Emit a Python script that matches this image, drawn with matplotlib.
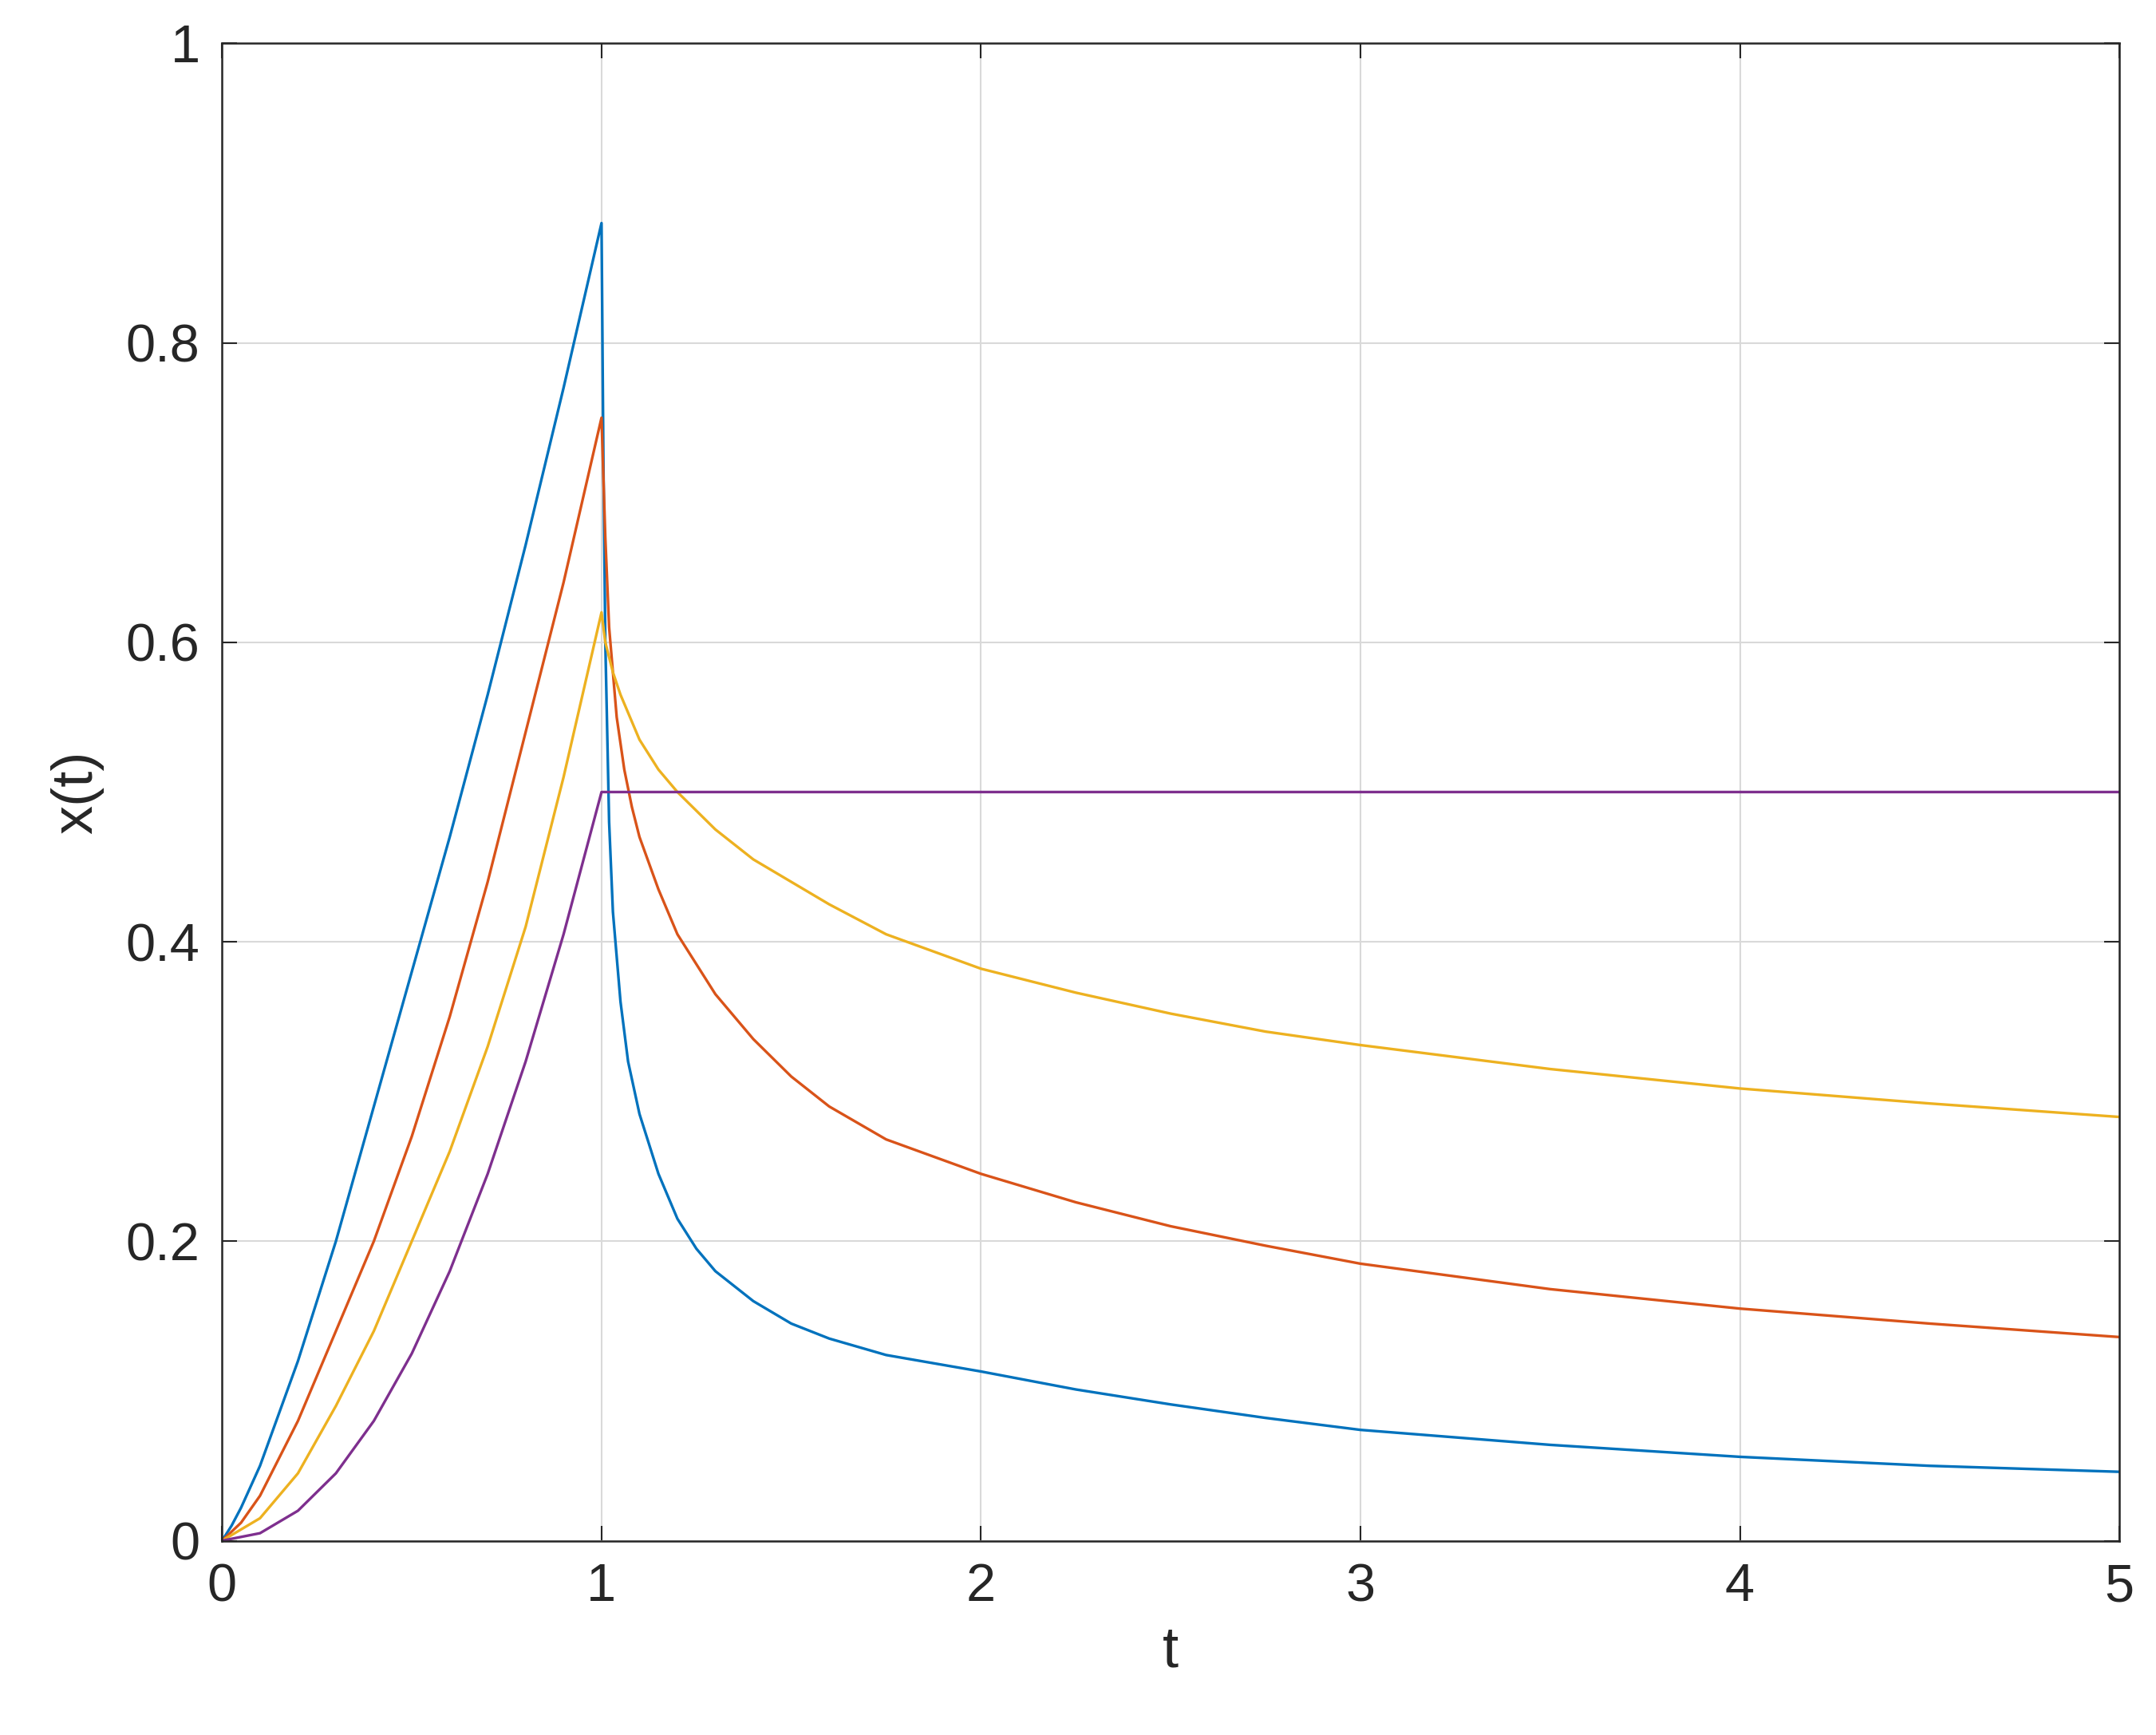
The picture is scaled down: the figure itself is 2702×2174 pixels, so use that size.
import matplotlib
matplotlib.use("Agg")
from matplotlib import pyplot as plt

# values
t_blue = [0, 0.025, 0.05, 0.1, 0.15, 0.2, 0.3, 0.4, 0.5, 0.6, 0.7, 0.8, 0.9, 1.0,
          1.005, 1.01, 1.02, 1.03, 1.05, 1.07, 1.1, 1.15, 1.2, 1.25, 1.3, 1.4, 1.5, 1.6, 1.75, 2,
          2.25, 2.5, 2.75, 3, 3.5, 4, 4.5, 5]
x_blue = [0, 0.01, 0.022, 0.05, 0.085, 0.12, 0.2, 0.29, 0.38, 0.47, 0.565, 0.665, 0.77, 0.88,
          0.72, 0.6, 0.48, 0.42, 0.36, 0.32, 0.285, 0.245, 0.215, 0.195, 0.18, 0.16, 0.145, 0.135, 0.124, 0.113,
          0.101, 0.091, 0.082, 0.074, 0.064, 0.056, 0.05, 0.046]

t_red = [0, 0.05, 0.1, 0.15, 0.2, 0.3, 0.4, 0.5, 0.6, 0.7, 0.8, 0.9, 1.0,
         1.01, 1.02, 1.04, 1.06, 1.08, 1.1, 1.15, 1.2, 1.3, 1.4, 1.5, 1.6, 1.75, 2,
         2.25, 2.5, 2.75, 3, 3.5, 4, 4.5, 5]
x_red = [0, 0.012, 0.03, 0.055, 0.08, 0.14, 0.2, 0.27, 0.35, 0.44, 0.54, 0.64, 0.75,
         0.67, 0.61, 0.55, 0.515, 0.49, 0.47, 0.435, 0.405, 0.365, 0.335, 0.31, 0.29, 0.268, 0.245,
         0.226, 0.21, 0.197, 0.185, 0.168, 0.155, 0.145, 0.136]

t_yellow = [0, 0.1, 0.2, 0.3, 0.4, 0.5, 0.6, 0.7, 0.8, 0.9, 1.0,
            1.01, 1.03, 1.05, 1.1, 1.15, 1.2, 1.3, 1.4, 1.5, 1.6, 1.75, 2,
            2.25, 2.5, 2.75, 3, 3.5, 4, 4.5, 5]
x_yellow = [0, 0.015, 0.045, 0.09, 0.14, 0.2, 0.26, 0.33, 0.41, 0.51, 0.62,
            0.6, 0.58, 0.565, 0.535, 0.515, 0.5, 0.475, 0.455, 0.44, 0.425, 0.405, 0.382,
            0.366, 0.352, 0.34, 0.331, 0.315, 0.302, 0.292, 0.283]

t_purple = [0, 0.1, 0.2, 0.3, 0.4, 0.5, 0.6, 0.7, 0.8, 0.9, 1.0, 5.0]
x_purple = [0, 0.005, 0.02, 0.045, 0.08, 0.125, 0.18, 0.245, 0.32, 0.405, 0.5, 0.5]

colors = ["#0072BD", "#D95319", "#EDB120", "#7E2F8E"]

plt.rcParams["font.family"] = ["Liberation Sans", "DejaVu Sans"]
fig = plt.figure(figsize=(27.02, 21.74), dpi=100)
ax = fig.add_axes([0.103, 0.112, 0.88, 0.863])

for (tt, xx), c in zip([(t_blue, x_blue), (t_red, x_red), (t_yellow, x_yellow), (t_purple, x_purple)], colors):
    ax.plot(tt, xx, color=c, linewidth=2.4)

ax.set_xlim(0, 5)
ax.set_ylim(0, 1)
ax.set_xticks([0, 1, 2, 3, 4, 5])
ax.set_yticks([0, 0.2, 0.4, 0.6, 0.8, 1])
ax.set_yticklabels(["0", "0.2", "0.4", "0.6", "0.8", "1"])
ax.grid(True, color="#d9d9d9", linewidth=1.5)
ax.tick_params(direction="in", top=True, right=True, length=14, width=1.5,
               labelsize=48, colors="#262626", pad=20)
for s in ax.spines.values():
    s.set_linewidth(1.8)
    s.set_color("#262626")
ax.set_xlabel("t", fontsize=52, color="#262626", labelpad=12)
ax.set_ylabel("x(t)", fontsize=52, color="#262626", labelpad=20)

plt.savefig("out.png")
plt.close(fig)
